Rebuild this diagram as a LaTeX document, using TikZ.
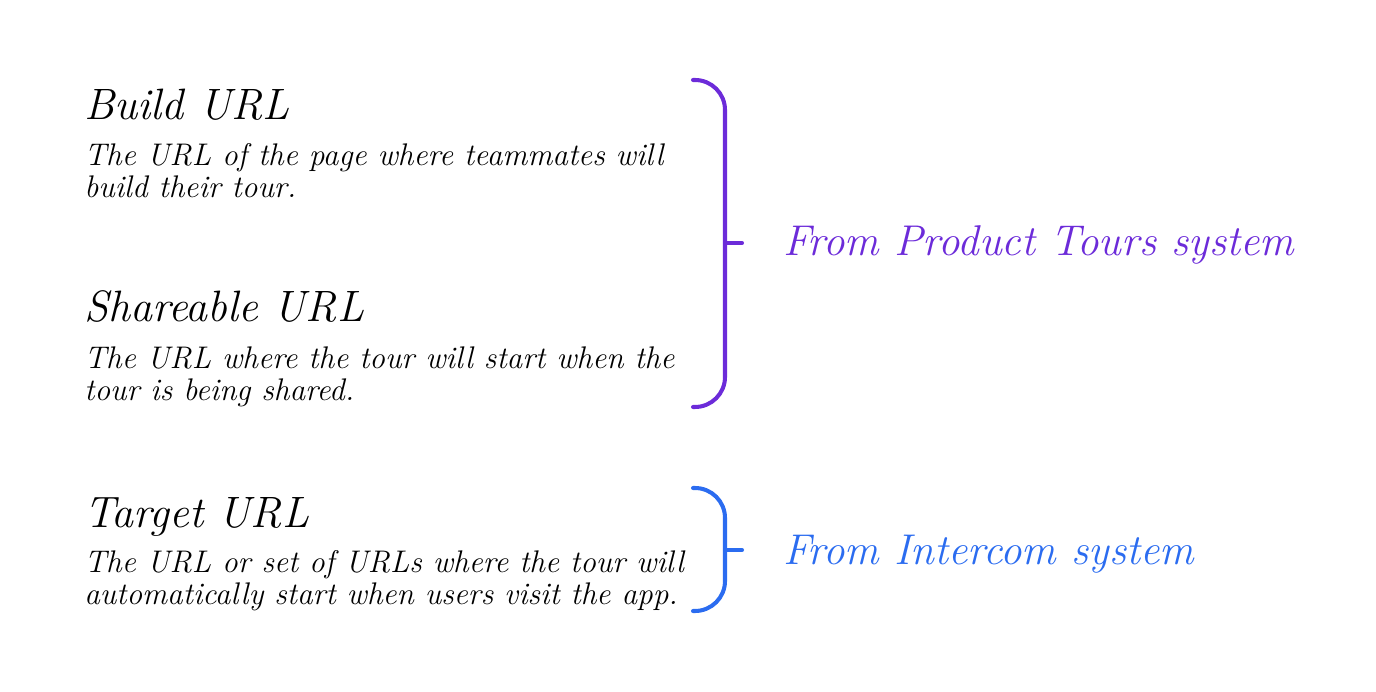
\documentclass[tikz,border=0pt]{standalone}
\usepackage{fontspec}
\usetikzlibrary{positioning}
\definecolor{tourpurple}{HTML}{6C2BD9}
\definecolor{icblue}{HTML}{2B6CF0}
\tikzset{
  head/.style={anchor=base west, inner sep=0pt, font=\fontsize{25}{29}\selectfont\itshape},
  desc/.style={anchor=north west, inner sep=0pt, align=left,
    font=\fontsize{17.8}{18.4}\selectfont\itshape},
  source/.style={anchor=base west, inner sep=0pt, font=\fontsize{24.5}{28}\selectfont\itshape},
  bracket/.style={line width=2.3pt, rounded corners=0.6cm, line cap=round},
}
\begin{document}
\begin{tikzpicture}[x=0.02cm, y=-0.02cm]
  \useasboundingbox (0,0) rectangle (1376,692);

  % fields
  \node[head] (build) at (84,120) {Build URL};
  \node[desc] (builddesc) at (84,143)
    {The URL of the page where teammates will\\build their tour.};
  \node[head] (share) at (84,322) {Shareable URL};
  \node[desc] (sharedesc) at (84,346)
    {The URL where the tour will start when the\\tour is being shared.};
  \node[head] (target) at (84,527) {Target URL};
  \node[desc] (targetdesc) at (84,550)
    {The URL or set of URLs where the tour will\\automatically start when users visit the app.};

  % brackets
  \draw[bracket, tourpurple] (693,80) -- (725,80) -- (725,407) -- (693,407);
  \coordinate (tourmid) at (725,243);
  \draw[bracket, tourpurple] (tourmid) -- ++(17,0) coordinate (tourtip);
  \node[source, text=tourpurple] (tours) at (783,256) {From Product Tours system};

  \draw[bracket, icblue] (693,488) -- (725,488) -- (725,611) -- (693,611);
  \coordinate (icmid) at (725,550);
  \draw[bracket, icblue] (icmid) -- ++(17,0) coordinate (ictip);
  \node[source, text=icblue] (intercom) at (783,564) {From Intercom system};
\end{tikzpicture}
\end{document}
